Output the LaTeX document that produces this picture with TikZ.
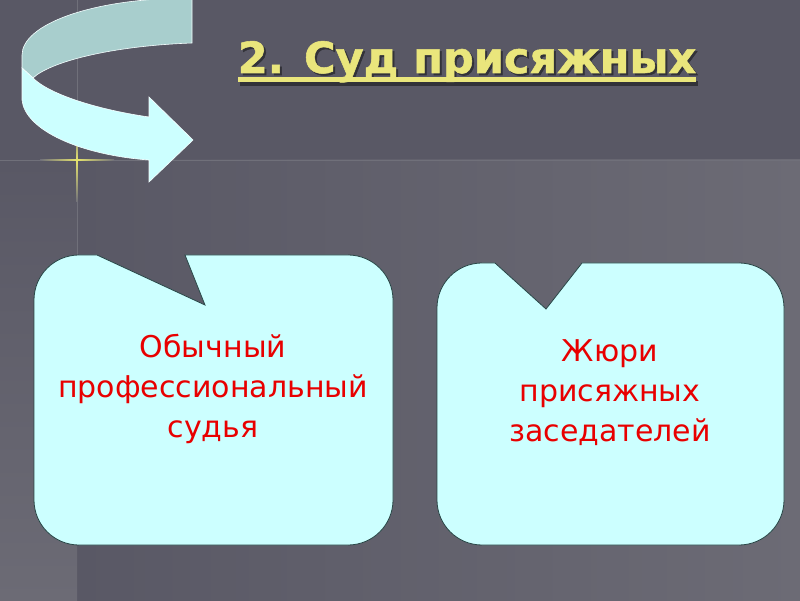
\documentclass[tikz,border=0pt]{standalone}
\usepackage{fontspec}
\setmainfont{DejaVu Sans}[BoldFont={DejaVu Sans Bold}]
\newfontfamily\headfont{DejaVu Sans Bold}[FakeBold=1.2]
\definecolor{bgdark}{RGB}{89,88,101}
\definecolor{bglight}{RGB}{108,107,117}
\definecolor{gridline}{RGB}{112,112,122}
\definecolor{spark}{RGB}{230,228,110}
\definecolor{boxfill}{RGB}{204,255,255}
\definecolor{boxline}{RGB}{40,70,70}
\definecolor{backface}{RGB}{168,206,205}
\definecolor{titleyellow}{RGB}{234,230,124}
\definecolor{titleshade}{RGB}{50,50,56}
\definecolor{textred}{RGB}{232,0,0}

\begin{document}
\begin{tikzpicture}[x=1pt,y=1pt,
    callout/.style={fill=boxfill,draw=boxline,line width=0.8pt},
    boxtext/.style={text=textred,align=center,font=\fontsize{30}{40}\selectfont},
    ribbon/.style={draw=white!80!boxfill,line width=0.6pt},
    heading/.style={font=\headfont\fontsize{43}{50}\selectfont,inner sep=0pt,anchor=base}]
    \useasboundingbox (0,0) rectangle (800,600);
    \clip (0,0) rectangle (800,600);
    \fill[bgdark] (0,0) rectangle (800,600);
    \shade[left color=bgdark,right color=bglight] (77,0) rectangle (800,440);
    \shade[top color=bgdark,bottom color=bglight] (0,0) rectangle (77,440);
    \draw[gridline,line width=0.8pt] (0,440)--(800,440);
    \draw[gridline,line width=0.8pt] (77,600)--(77,340);
    \shade[left color=gridline,right color=spark] (40,439.2) rectangle (77,440.8);
    \shade[left color=spark,right color=gridline] (77,439.2) rectangle (114,440.8);
    \shade[top color=spark,bottom color=gridline] (76.2,398) rectangle (77.8,440);
    \shade[top color=gridline,bottom color=spark] (76.2,440) rectangle (77.8,470);

    \path[ribbon,fill=backface] (192,602)--(192,557) .. controls (110,554) and (50,538) .. (33,522)
        --(22,532)--(22,545) .. controls (22,575) and (90,602) .. (192,602);
    \path[ribbon,fill=boxfill] (22,532)--(22,500) .. controls (25,470) and (80,445) .. (149,440)
        --(149,418)--(193,460)--(149,503)--(149,483) .. controls (100,490) and (50,505) .. (33,522)--cycle;

    \node[heading,text=titleshade] (shadow) at (469,525) {2. Суд присяжных};
    \fill[titleshade] ([yshift=-6pt]shadow.base west) rectangle ([yshift=-11pt]shadow.base east);
    \node[heading,text=titleyellow] (title) at (467,527) {2. Суд присяжных};
    \fill[titleyellow] ([yshift=-4pt]title.base west) rectangle ([yshift=-9pt]title.base east);

    \draw[callout] (185,345)--(348,345) arc[start angle=90,end angle=0,radius=45]
        --(393,100) arc[start angle=0,end angle=-90,radius=45]
        --(79,55) arc[start angle=270,end angle=180,radius=45]
        --(34,300) arc[start angle=180,end angle=90,radius=45]
        --(97,345)--(205,295)--cycle;
    \draw[callout] (582,337)--(739,337) arc[start angle=90,end angle=0,radius=45]
        --(784,100) arc[start angle=0,end angle=-90,radius=45]
        --(482,55) arc[start angle=270,end angle=180,radius=45]
        --(437,292) arc[start angle=180,end angle=90,radius=45]
        --(495,337)--(546,291)--cycle;

    \node[boxtext] (judge) at (213,211.5) {Обычный\\профессиональный\\судья};
    \node[boxtext] (jury) at (610,207.5) {Жюри\\присяжных\\заседателей};
\end{tikzpicture}
\end{document}
